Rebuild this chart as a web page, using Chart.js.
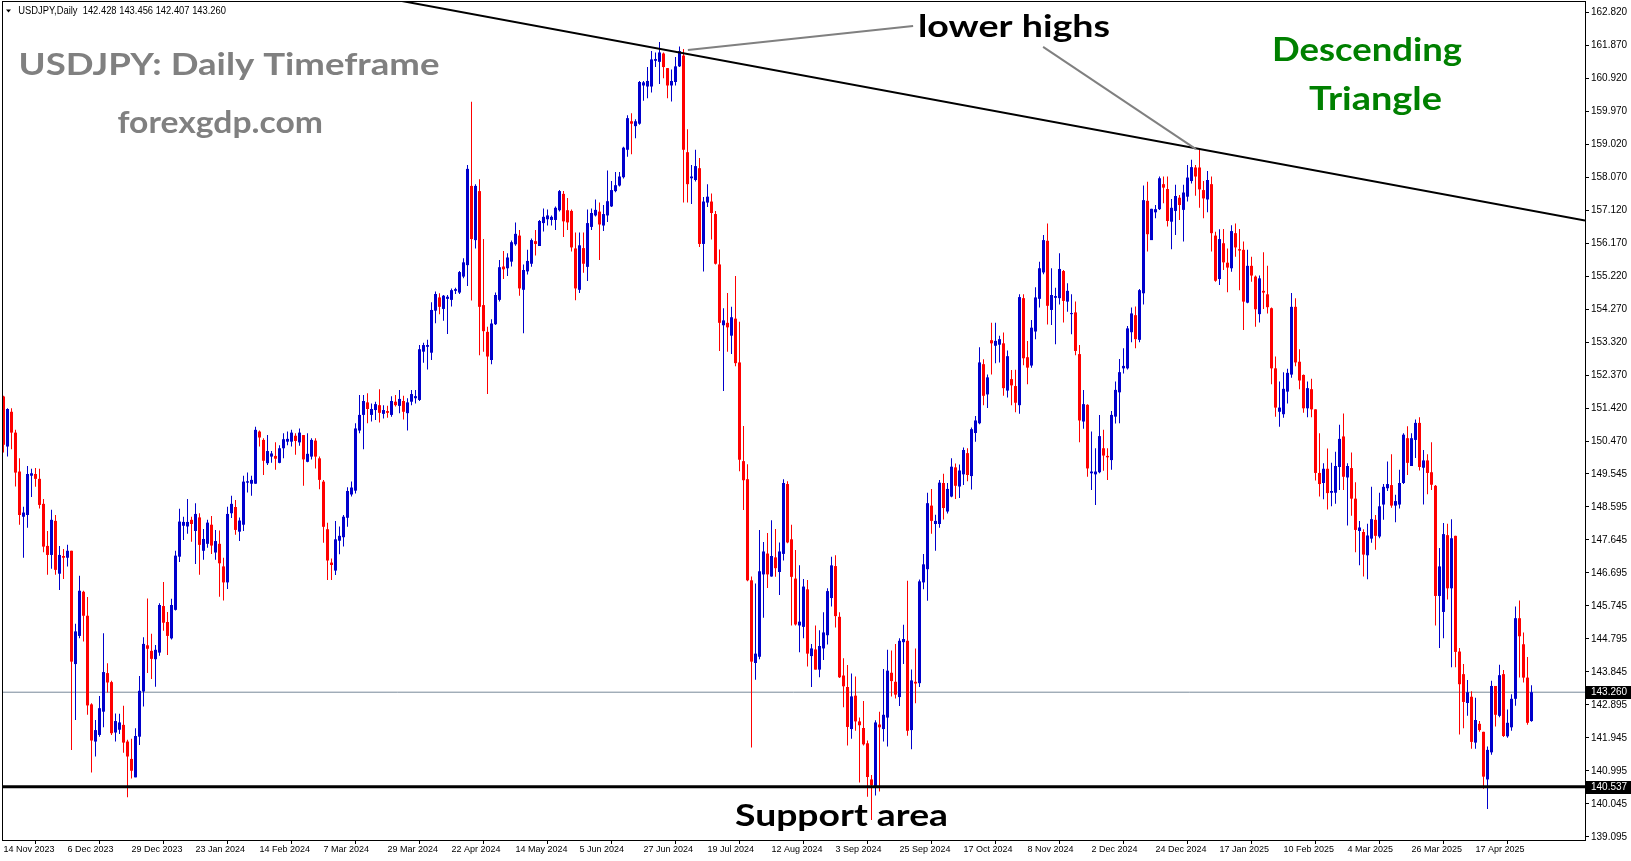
<!DOCTYPE html>
<html><head><meta charset="utf-8">
<script src="https://cdn.jsdelivr.net/npm/chart.js@4.4.1/dist/chart.umd.min.js"></script>
<style>html,body{margin:0;padding:0;background:#fff;overflow:hidden}canvas{display:block}</style>
</head><body>
<canvas id="c" width="1631" height="861"></canvas>
<script>
// ---- DATA (USDJPY daily, 14 Nov 2023 .. 7 May 2025) ----
const opens = [151.77,150.33,151.33,150.73,149.61,148.31,148.36,149.49,149.54,149.40,
148.68,147.47,147.21,148.19,146.67,147.18,147.13,147.33,144.07,144.88,
146.15,145.46,142.91,141.84,142.03,142.70,143.81,143.55,142.10,142.18,
142.32,141.84,141.34,140.81,141.98,143.28,144.61,144.45,144.21,144.40,
145.74,145.28,144.81,145.63,147.16,148.05,148.03,148.22,147.90,148.29,
147.33,147.53,148.08,147.28,147.53,146.88,146.42,148.41,148.59,147.88,
148.08,149.29,149.26,149.26,150.76,150.52,149.85,150.04,150.06,149.86,
150.28,150.47,150.47,150.64,150.45,150.66,149.89,150.04,150.50,149.99,
149.32,147.95,146.99,146.76,147.62,147.72,148.28,148.95,149.06,150.79,
151.24,151.60,151.24,151.38,151.52,151.27,151.35,151.24,151.62,151.50,
151.64,151.29,151.62,151.72,151.67,153.06,153.20,153.03,154.24,154.62,
154.29,154.58,154.55,154.81,154.76,155.22,155.55,157.83,156.27,157.68,
154.40,153.63,152.82,153.85,154.55,155.51,155.46,155.65,156.15,156.40,
154.84,155.37,155.59,156.24,156.10,156.76,156.87,156.85,156.85,157.13,
157.60,157.13,157.11,156.03,154.84,156.04,155.50,156.65,156.98,157.09,
156.69,156.98,157.24,157.68,157.84,158.08,158.87,159.69,159.55,159.62,
160.72,160.69,160.69,161.43,161.40,161.64,161.22,160.72,160.82,161.27,
161.58,158.80,158.05,158.00,158.34,156.16,157.35,157.38,157.02,155.57,
153.82,153.89,153.52,154.01,152.75,149.91,149.39,146.48,144.10,144.28,
146.65,147.25,146.59,147.14,146.72,147.24,149.25,147.66,146.53,145.18,
145.14,146.22,144.30,144.49,143.91,144.52,144.90,145.97,146.89,145.43,
143.74,143.41,142.20,143.16,142.42,142.23,141.79,140.75,140.55,142.33,
142.20,142.53,143.82,143.56,143.12,144.70,144.74,142.17,143.56,143.52,
146.42,146.80,148.63,148.10,148.10,149.28,148.46,148.89,149.73,149.18,
149.53,150.14,149.48,150.72,151.00,152.70,151.83,153.39,153.23,153.26,
153.30,151.94,152.27,152.07,151.52,154.60,152.90,152.66,153.64,154.58,
155.34,156.25,154.26,154.61,154.60,155.38,154.50,154.14,154.19,152.99,
151.05,151.53,149.56,149.53,149.59,150.28,150.06,149.94,151.19,151.89,
152.58,152.58,153.62,154.11,153.40,154.74,157.40,156.27,157.07,157.16,
157.88,157.74,156.80,157.11,157.49,157.14,157.52,157.97,158.36,158.36,
157.71,157.44,157.88,156.40,155.15,156.18,155.62,155.46,156.47,156.01,
155.99,154.47,155.53,155.22,154.14,154.81,154.71,154.31,152.58,151.33,
151.26,151.91,152.40,154.35,152.77,152.39,151.43,151.98,151.40,149.57,
149.28,149.69,149.00,149.00,149.74,150.62,149.44,149.71,148.83,147.90,
147.87,147.20,147.68,148.22,147.74,148.66,149.13,149.22,148.63,148.66,
149.28,150.57,149.77,150.52,151.01,149.72,149.93,149.59,149.20,146.03,
145.57,147.78,146.25,147.76,144.43,143.78,142.95,143.13,141.81,142.35,
142.12,140.75,141.53,143.44,142.58,143.78,141.99,142.25,143.07,145.39,
144.64,143.68,142.43];
const highs = [151.79,151.43,151.43,150.81,149.99,148.60,149.77,149.69,149.71,149.69,
148.82,147.90,148.51,148.36,147.47,147.38,147.50,147.33,145.23,146.61,
146.18,146.00,142.94,142.46,143.15,144.96,144.09,143.59,142.65,142.64,
142.87,141.89,141.92,142.22,143.73,144.84,145.96,144.94,144.62,145.82,
146.43,145.57,145.95,147.33,148.54,148.31,148.82,148.31,148.70,148.41,
147.96,148.22,148.33,147.93,147.91,147.13,148.60,148.91,148.79,148.29,
149.49,149.58,149.49,150.90,150.79,150.57,150.66,150.20,150.45,150.37,
150.71,150.76,150.81,150.71,150.85,150.66,150.71,150.57,150.57,150.04,
149.37,148.14,147.11,148.19,148.03,148.36,149.16,149.32,151.00,151.81,
151.81,151.86,151.57,151.62,151.98,151.52,151.50,151.78,151.81,151.96,
151.79,151.72,151.96,151.96,153.25,153.32,153.40,154.48,154.79,154.74,
154.69,154.69,154.88,154.90,155.38,155.75,158.43,160.25,157.88,158.02,
156.30,153.78,153.99,154.76,155.70,155.96,155.89,156.26,156.78,156.56,
155.57,155.99,156.32,156.56,156.85,157.18,157.15,156.98,157.24,157.71,
157.68,157.48,157.15,156.49,156.49,156.49,157.15,157.18,157.44,157.35,
157.28,158.27,157.97,158.23,158.23,158.96,159.86,159.92,159.75,160.85,
160.85,161.25,161.71,161.67,161.97,161.67,161.22,161.18,161.54,161.84,
161.77,159.46,158.43,158.87,158.63,157.51,157.88,157.61,157.11,156.00,
154.31,154.75,154.35,155.24,153.92,150.92,149.82,146.59,146.39,147.93,
147.58,147.84,148.21,147.96,147.57,149.39,149.33,148.08,147.35,146.91,
146.52,146.49,144.65,145.18,145.04,145.56,146.25,147.16,147.20,145.56,
144.24,144.04,143.80,143.71,142.53,143.01,141.87,140.88,142.45,142.70,
143.93,144.48,144.46,144.65,144.81,145.20,146.47,143.91,144.52,146.50,
147.24,149.00,149.11,148.37,149.37,149.55,149.28,149.99,149.84,149.81,
150.30,150.28,150.88,151.21,153.19,152.84,152.40,153.89,153.89,153.52,
153.61,153.09,152.53,152.54,154.71,154.71,153.37,153.97,154.91,155.65,
156.42,156.75,155.46,154.90,155.89,155.41,155.03,154.71,154.50,153.25,
151.96,151.55,150.76,150.28,151.24,150.81,150.28,151.35,152.20,152.85,
153.16,153.80,154.33,154.36,154.86,157.84,157.95,157.17,157.28,158.10,
158.10,158.10,157.45,157.86,157.57,157.86,158.43,158.58,158.43,158.89,
157.97,158.26,158.10,156.51,156.58,156.59,156.03,156.70,156.75,156.59,
156.23,155.99,155.79,155.25,155.25,155.92,155.53,154.33,152.92,152.20,
152.47,152.57,154.75,154.60,153.13,152.40,152.20,152.28,151.40,150.71,
149.85,150.27,149.86,150.18,150.96,151.28,149.85,150.16,149.30,148.19,
147.95,148.11,149.17,148.36,149.00,149.25,149.90,150.11,148.94,149.66,
150.71,150.91,150.71,151.11,151.17,150.23,150.11,150.45,149.22,147.41,
148.13,148.11,148.24,147.76,144.53,144.07,143.61,143.29,143.10,142.43,
142.12,141.70,143.59,143.44,144.05,143.90,142.76,143.20,145.73,145.90,
144.98,144.27,143.46];
const lows = [150.16,150.04,150.25,149.18,148.08,147.13,147.99,148.88,149.17,148.55,
147.29,146.64,146.81,146.64,146.20,146.52,146.88,141.60,142.46,144.81,
144.72,142.61,140.95,141.41,141.98,142.25,143.25,142.03,141.84,142.06,
141.52,140.24,140.78,140.81,141.74,142.85,143.81,143.64,143.42,144.31,
145.03,144.33,144.78,145.61,147.01,147.64,147.82,147.59,146.95,146.64,
147.07,147.42,147.24,147.07,146.01,145.90,146.23,148.27,147.79,147.61,
147.90,149.01,148.91,149.26,150.33,149.51,149.80,149.86,149.66,149.85,
149.99,150.37,150.33,150.09,150.35,149.20,149.88,149.96,149.70,149.10,
147.56,146.49,146.49,146.63,147.23,147.45,148.02,148.89,148.98,150.71,
150.25,151.00,151.05,151.09,151.02,151.14,151.16,151.19,151.48,151.29,
151.11,150.79,151.52,151.57,151.64,152.74,152.55,152.82,153.88,154.14,
153.95,153.57,154.36,154.72,154.72,155.17,154.95,154.53,156.03,152.96,
153.06,151.84,152.70,153.83,154.50,155.15,155.24,155.51,156.11,154.67,
153.59,155.28,155.50,155.83,156.10,156.52,156.69,156.69,156.56,157.09,
156.36,156.56,155.94,154.54,154.75,155.33,155.09,156.56,156.95,155.70,
156.53,156.79,157.22,157.65,157.81,158.04,158.67,158.74,159.20,159.59,
160.28,160.35,160.52,161.25,160.76,160.93,160.35,160.26,160.72,161.25,
157.35,157.35,157.31,157.96,156.07,155.37,157.22,156.29,155.57,153.08,
151.93,153.06,152.99,152.64,149.62,148.50,146.45,141.67,143.62,144.21,
145.40,146.26,146.58,146.58,146.06,147.05,147.55,145.18,145.18,144.41,
144.81,144.00,143.41,143.91,143.69,144.19,144.63,145.73,145.12,143.67,
142.83,141.73,141.92,142.15,140.66,141.73,140.25,139.58,140.29,140.40,
141.84,141.70,143.14,143.08,142.86,144.07,142.01,141.62,142.94,143.41,
146.22,145.89,147.82,147.33,147.99,148.23,148.40,148.87,148.82,148.85,
149.22,149.33,149.09,150.47,150.97,151.52,151.44,152.40,152.73,152.75,
151.79,151.74,151.52,151.32,151.27,152.67,152.12,152.60,153.42,154.33,
155.29,153.84,153.83,153.27,154.42,153.90,154.21,153.56,152.96,150.45,
150.84,149.46,149.08,148.65,149.56,149.63,149.37,149.66,150.99,151.00,
152.43,152.55,153.33,153.16,153.33,154.42,155.94,156.27,156.90,157.14,
157.33,156.66,156.01,156.42,156.85,156.23,157.38,157.90,157.55,157.20,
156.90,157.07,155.94,155.07,154.98,155.41,154.77,155.36,155.79,154.83,
153.68,154.45,155.07,153.78,153.90,154.29,154.16,152.12,151.19,150.90,
151.16,151.57,152.31,152.64,151.98,151.30,151.17,151.17,149.35,148.89,
148.81,148.52,148.61,148.68,149.08,149.08,148.06,148.34,147.29,146.91,
146.59,146.51,147.56,147.36,147.69,148.22,149.05,148.57,148.15,148.55,
149.25,149.51,149.77,150.00,149.64,148.66,148.96,149.08,145.18,144.53,
144.81,145.93,143.98,143.98,142.04,142.22,142.58,141.63,141.63,142.12,
140.48,139.90,141.46,142.27,142.54,141.97,141.95,142.15,142.87,143.68,
143.54,142.32,142.41];
const closes = [150.38,151.41,150.73,149.58,148.36,148.43,149.54,149.56,149.40,148.65,
147.45,147.21,148.22,146.78,147.21,147.13,147.33,144.14,145.01,146.18,
145.46,142.88,141.87,142.17,142.80,143.84,143.54,142.08,142.43,142.39,
141.81,141.41,141.00,142.00,143.30,144.65,144.51,144.22,144.48,145.77,
145.26,144.88,145.77,147.19,148.17,148.16,148.16,148.10,148.39,147.50,
147.67,148.14,147.48,147.61,146.97,146.42,148.39,148.68,147.93,148.20,
149.32,149.33,149.37,150.81,150.59,149.92,150.20,150.13,149.98,150.28,
150.54,150.55,150.73,150.49,150.73,149.96,150.12,150.52,150.04,149.37,
148.02,147.05,146.92,147.66,147.76,148.31,149.05,149.15,150.85,151.24,
151.64,151.41,151.41,151.55,151.30,151.38,151.30,151.64,151.52,151.70,
151.33,151.60,151.84,151.78,153.13,153.25,153.25,154.26,154.72,154.35,
154.67,154.64,154.83,154.86,155.35,155.63,158.32,156.30,157.83,154.35,
153.65,152.92,153.87,154.69,155.49,155.43,155.77,156.21,156.45,154.88,
155.41,155.67,156.27,156.16,156.82,156.94,156.98,156.94,157.20,157.68,
156.81,156.78,156.06,154.88,156.12,155.59,156.76,157.05,157.14,156.72,
157.02,157.39,157.71,157.85,158.10,158.93,159.78,159.62,159.69,160.82,
160.81,160.85,161.47,161.48,161.67,161.25,160.72,160.85,161.27,161.71,
158.87,157.88,158.10,158.40,156.16,157.38,157.52,157.05,155.59,153.89,
153.96,153.76,154.05,152.73,149.95,149.36,146.48,144.14,144.37,146.74,
147.31,146.65,147.18,146.83,147.31,149.28,147.57,146.58,145.21,145.29,
146.30,144.37,144.52,143.91,144.59,144.98,146.17,146.91,145.45,143.69,
143.43,142.26,143.14,142.42,142.31,141.76,140.82,140.58,142.39,142.25,
142.61,143.88,143.58,143.19,144.74,144.79,142.15,143.60,143.51,146.45,
146.94,148.70,148.19,148.19,149.29,148.56,149.11,149.75,149.20,149.64,
150.23,149.51,150.83,151.08,152.75,151.79,152.32,153.30,153.37,153.42,
152.01,152.93,152.09,151.59,154.63,152.87,152.60,153.75,154.62,155.46,
156.27,154.38,154.69,154.66,155.44,154.52,154.81,154.17,153.08,151.08,
151.55,149.70,149.61,149.61,150.63,150.07,150.02,151.24,151.96,152.47,
152.65,153.73,154.16,153.42,154.83,157.42,156.44,157.17,157.16,158.05,
157.78,156.82,157.20,157.54,157.28,157.64,158.07,158.37,158.10,157.73,
157.47,158.00,156.47,155.10,156.30,155.63,155.48,156.53,156.06,155.97,
154.50,155.53,155.25,154.28,155.17,154.76,154.34,152.58,151.45,151.45,
151.99,152.45,154.35,152.75,152.23,151.43,152.01,151.40,149.57,149.25,
149.69,148.99,149.05,149.77,150.55,149.46,149.77,148.83,147.93,148.00,
147.22,147.77,148.24,147.76,148.61,149.17,149.25,148.63,148.76,149.28,
150.67,149.86,150.57,151.01,149.74,149.93,149.57,149.23,146.03,146.88,
147.81,146.25,147.69,144.42,143.49,142.98,143.26,141.83,142.46,142.17,
140.83,141.60,143.44,142.61,143.75,142.00,142.38,143.07,145.39,144.87,
143.68,142.38,143.26];
const dateTicks = ['14 Nov 2023','6 Dec 2023','29 Dec 2023','23 Jan 2024','14 Feb 2024','7 Mar 2024',
'29 Mar 2024','22 Apr 2024','14 May 2024','5 Jun 2024','27 Jun 2024','19 Jul 2024','12 Aug 2024',
'3 Sep 2024','25 Sep 2024','17 Oct 2024','8 Nov 2024','2 Dec 2024','24 Dec 2024','17 Jan 2025',
'10 Feb 2025','4 Mar 2025','26 Mar 2025','17 Apr 2025'];
const dateTickStep = 16; // bars between date labels
const priceTicks = [162.820,161.870,160.920,159.970,159.020,158.070,157.120,156.170,155.220,154.270,
153.320,152.370,151.420,150.470,149.545,148.595,147.645,146.695,145.745,144.795,143.845,142.895,
141.945,140.995,140.045,139.095];
const bidPrice = 143.260;
const supportPrice = 140.537;
const trendPoints = [{x: 99.6, y: 163.15}, {x: 395.375, y: 156.834}];
const headerText = 'USDJPY,Daily  142.428 143.456 142.407 143.260';

// ---- chart ----
const X_MIN = -0.375, X_MAX = 395.375, Y_MIN = 139.007, Y_MAX = 163.151;
const UP = '#0000cc', DN = '#ff0000';
const idx = opens.map((_, i) => i);
const colors = idx.map(i => closes[i] >= opens[i] ? UP : DN);
const wickData = idx.map(i => ({x: i, y: [lows[i], highs[i]]}));
const bodyData = idx.map(i => ({x: i, y: [Math.min(opens[i], closes[i]), Math.max(opens[i], closes[i])]}));

function fitText(ctx, txt, font, left, right, baseline, color) {
  ctx.save();
  ctx.font = font;
  const w = ctx.measureText(txt).width;
  ctx.translate(left, baseline);
  ctx.scale((right - left) / w, 1);
  ctx.fillStyle = color;
  ctx.textBaseline = 'alphabetic';
  ctx.textAlign = 'left';
  ctx.fillText(txt, 0, 0);
  ctx.restore();
}

const overlay = {
  id: 'overlay',
  afterDatasetsDraw(chart) {
    const ctx = chart.ctx, xs = chart.scales.x, ys = chart.scales.y;
    // annotation pointer lines
    const annos = [[{x:171.1,y:161.74},{x:227.4,y:162.43}], [{x:259.9,y:161.83},{x:298.1,y:158.89}]];
    ctx.save();
    ctx.strokeStyle = '#808080'; ctx.lineWidth = 2;
    annos.forEach(a => {
      ctx.beginPath();
      ctx.moveTo(xs.getPixelForValue(a[0].x), ys.getPixelForValue(a[0].y));
      ctx.lineTo(xs.getPixelForValue(a[1].x), ys.getPixelForValue(a[1].y));
      ctx.stroke();
    });
    ctx.restore();
    fitText(ctx, 'USDJPY: Daily Timeframe', 'bold 30px Lato', 18.5, 439.5, 75, '#808080');
    fitText(ctx, 'forexgdp.com', 'bold 31px Lato', 117.5, 323, 133, '#808080');
    fitText(ctx, 'lower highs', 'bold 31px Lato', 918, 1110, 37, '#000000');
    fitText(ctx, 'Descending', 'bold 32px Lato', 1272, 1462, 61, '#008000');
    fitText(ctx, 'Triangle', 'bold 32px Lato', 1309, 1442, 110, '#008000');
    fitText(ctx, 'Support area', 'bold 30px Lato', 735, 948, 825.5, '#000000');
  },
  afterDraw(chart) {
    const ctx = chart.ctx, a = chart.chartArea, ys = chart.scales.y;
    ctx.save();
    ctx.strokeStyle = '#000'; ctx.lineWidth = 1;
    ctx.strokeRect(a.left + 0.5, a.top + 0.5, a.right - a.left, a.bottom - a.top);
    // price boxes
    [bidPrice, supportPrice].forEach(p => {
      const y = Math.round(ys.getPixelForValue(p));
      ctx.fillStyle = '#000';
      ctx.fillRect(a.right + 1, y - 6, 45, 13);
      ctx.fillStyle = '#fff';
      ctx.font = '10px "Liberation Sans"';
      ctx.textBaseline = 'middle';
      ctx.textAlign = 'left';
      ctx.fillText(p.toFixed(3), a.right + 6, y + 0.5);
    });
    // header
    ctx.fillStyle = '#000';
    ctx.beginPath(); ctx.moveTo(6, 9.5); ctx.lineTo(11, 9.5); ctx.lineTo(8.5, 12.5); ctx.closePath(); ctx.fill();
    fitText(ctx, headerText, '10px "Liberation Sans"', 18.3, 226, 14, '#000');
    ctx.restore();
  }
};

new Chart(document.getElementById('c'), {
  type: 'bar',
  data: { datasets: [
    {type: 'line', data: [{x: X_MIN, y: bidPrice}, {x: X_MAX, y: bidPrice}], borderColor: '#778899', borderWidth: 1, pointRadius: 0, order: 10},
    {data: wickData, backgroundColor: colors, barThickness: 1, grouped: false, inflateAmount: 0, borderWidth: 0, order: 6},
    {data: bodyData, backgroundColor: colors, barThickness: 3, grouped: false, inflateAmount: 0, borderWidth: 0, minBarLength: 1, order: 5},
    {type: 'line', data: [{x: X_MIN, y: supportPrice}, {x: X_MAX, y: supportPrice}], borderColor: '#000', borderWidth: 3, pointRadius: 0, order: 2},
    {type: 'line', data: trendPoints, borderColor: '#000', borderWidth: 2, pointRadius: 0, order: 1}
  ]},
  options: {
    responsive: false, animation: false, devicePixelRatio: 1, events: [],
    layout: {padding: {left: 2, top: 1, right: 0, bottom: 0}},
    plugins: {legend: {display: false}, tooltip: {enabled: false}},
    scales: {
      x: {
        type: 'linear', min: X_MIN, max: X_MAX, offset: false,
        afterBuildTicks: s => { s.ticks = dateTicks.map((_, k) => ({value: k * dateTickStep})); },
        afterFit: s => { s.height = 21; s.paddingLeft = 0; s.paddingRight = 0; },
        ticks: {callback: (v, k) => dateTicks[k], align: 'start', maxRotation: 0, minRotation: 0, autoSkip: false,
                font: {family: 'Liberation Sans', size: 9}, color: '#000', padding: 0},
        grid: {drawOnChartArea: false, drawTicks: true, tickLength: 4, color: '#000'},
        border: {display: false}
      },
      y: {
        position: 'right', min: Y_MIN, max: Y_MAX,
        afterBuildTicks: s => { s.ticks = priceTicks.map(v => ({value: v})); },
        afterFit: s => { s.width = 46; s.paddingTop = 0; s.paddingBottom = 0; },
        ticks: {callback: v => Number(v).toFixed(3), autoSkip: false, font: {family: 'Liberation Sans', size: 10}, color: '#000', padding: 2},
        grid: {drawOnChartArea: false, drawTicks: true, tickLength: 4, color: '#000'},
        border: {display: false}
      }
    }
  },
  plugins: [overlay]
});
</script>
</body></html>
